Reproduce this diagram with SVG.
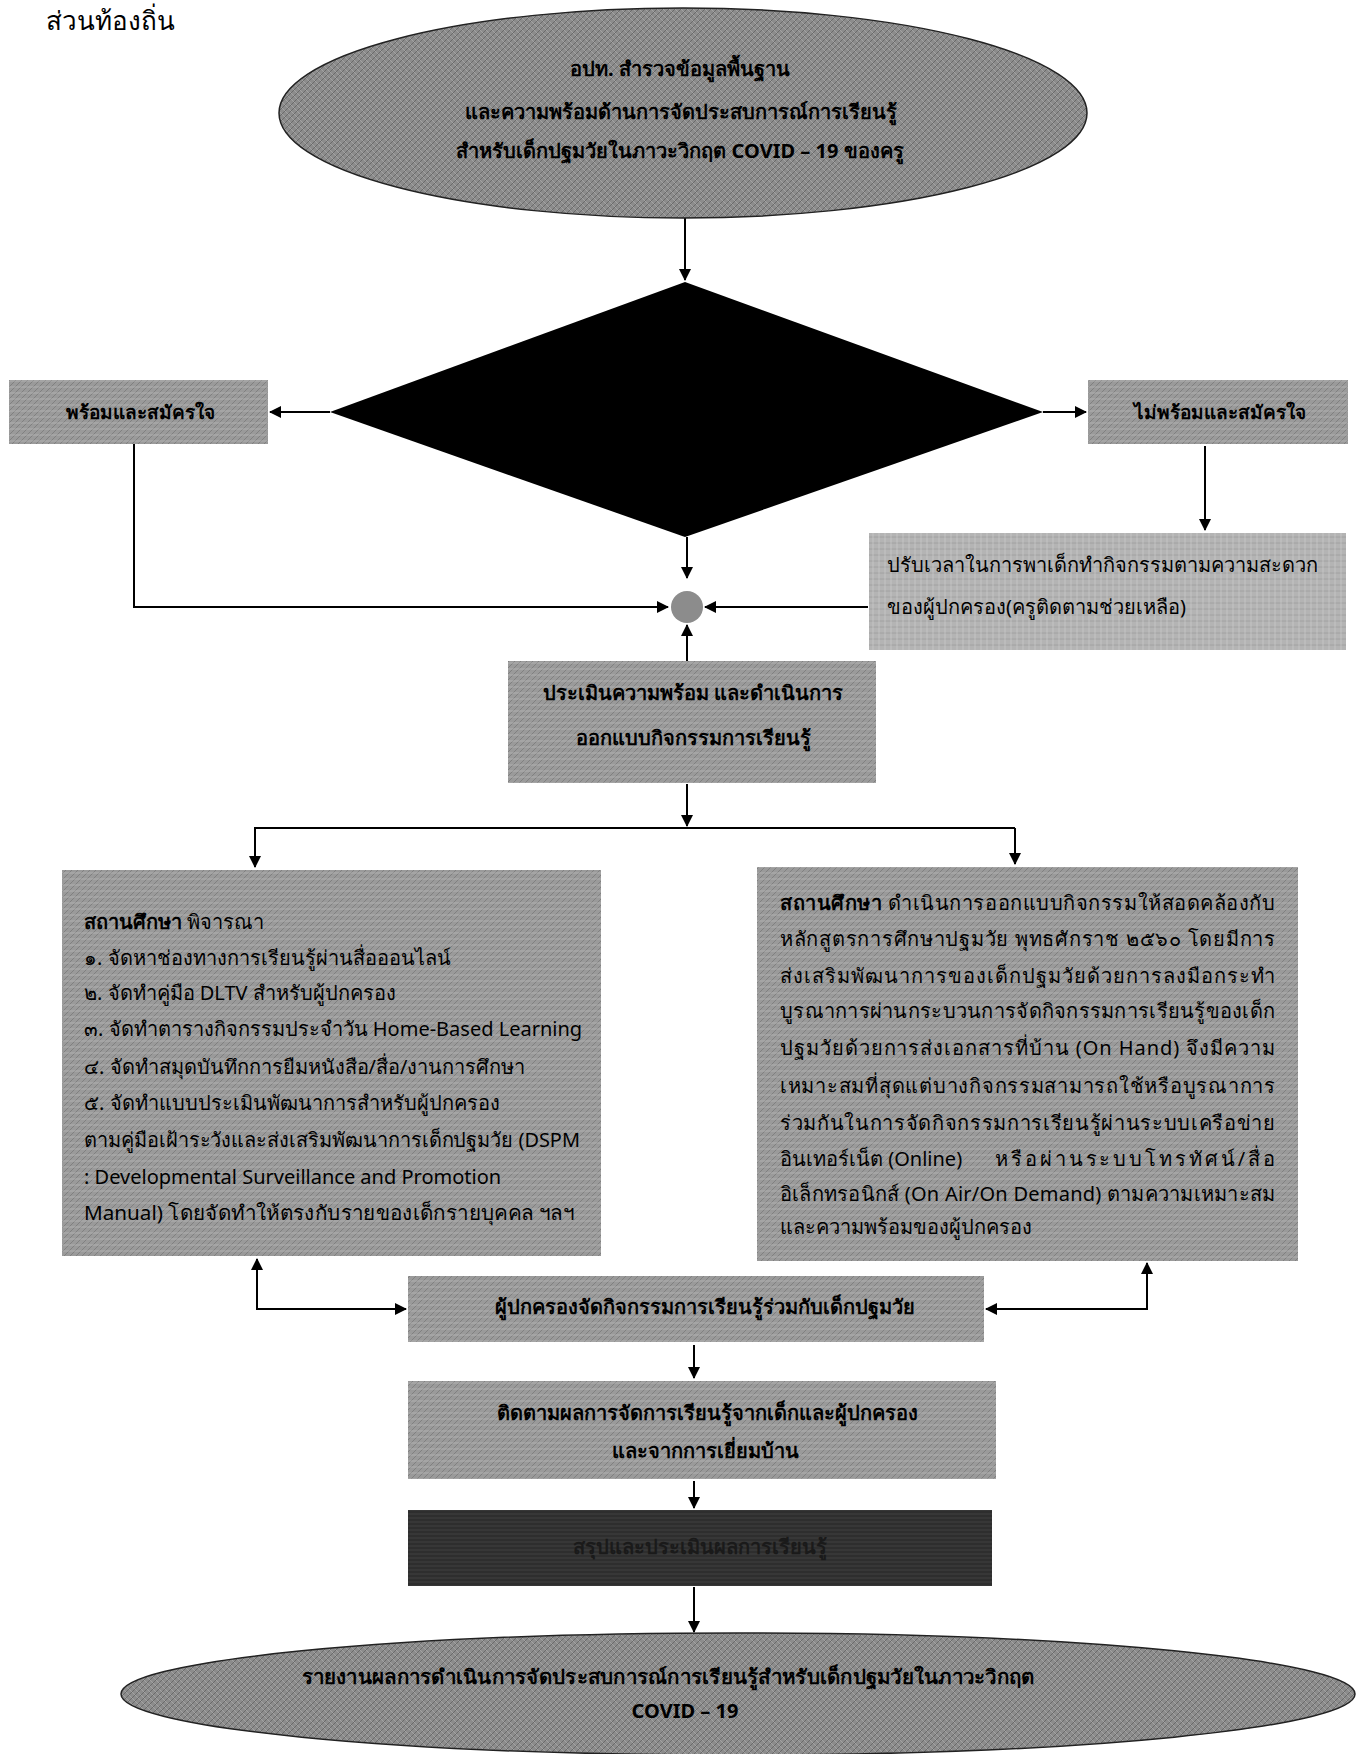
<svg xmlns="http://www.w3.org/2000/svg" width="1358" height="1754" viewBox="0 0 1358 1754">
<style>
text{font-family:"Noto Sans","DejaVu Sans",sans-serif;fill:#000}
.h{font-size:26px}
.b{font-weight:bold;font-size:20px}
.s{font-weight:bold;font-size:19px}
.t{font-size:20px}
.c{text-anchor:middle}
.ln{stroke:#000;stroke-width:2;fill:none}
.edge{stroke:#222;stroke-width:1.5}
</style>
<defs>
<marker id="ah" viewBox="0 0 12 12" refX="11" refY="6" markerWidth="12" markerHeight="12" markerUnits="userSpaceOnUse" orient="auto-start-reverse"><path d="M0,0 L12,6 L0,12 Z" fill="#000"/></marker>
<pattern id="g1" width="6" height="6" patternUnits="userSpaceOnUse"><rect width="6" height="6" fill="#8c8c8c"/><path d="M0,6 L6,0" stroke="#6a6a6a" stroke-width="1"/><path d="M0,0 L6,6" stroke="#b2b2b2" stroke-width="0.6"/></pattern>
<pattern id="g2" width="6" height="6" patternUnits="userSpaceOnUse"><rect width="6" height="6" fill="#9a9a9a"/><path d="M0,6 L6,0" stroke="#7a7a7a" stroke-width="0.8"/><path d="M0,3 L6,3" stroke="#bdbdbd" stroke-width="0.6"/></pattern>
<pattern id="g3" width="6" height="6" patternUnits="userSpaceOnUse"><rect width="6" height="6" fill="#b4b4b4"/><path d="M0,3 L6,3" stroke="#9a9a9a" stroke-width="0.8"/><path d="M3,0 L3,6" stroke="#cfcfcf" stroke-width="0.6"/></pattern>
<pattern id="g4" width="4" height="4" patternUnits="userSpaceOnUse"><rect width="4" height="4" fill="#2e2e2e"/><path d="M0,2 L4,2" stroke="#444" stroke-width="0.8"/></pattern>
</defs>

<text class="h" x="46" y="30">ส่วนท้องถิ่น</text>

<g id="connectors">
<line class="ln" x1="685" y1="218" x2="685" y2="280" marker-end="url(#ah)"/>
<line class="ln" x1="330" y1="412" x2="270" y2="412" marker-end="url(#ah)"/>
<line class="ln" x1="1043" y1="412" x2="1086" y2="412" marker-end="url(#ah)"/>
<line class="ln" x1="1205" y1="446" x2="1205" y2="530" marker-end="url(#ah)"/>
<line class="ln" x1="687" y1="537" x2="687" y2="578" marker-end="url(#ah)"/>
<polyline class="ln" points="134,444 134,607 668,607" marker-end="url(#ah)"/>
<line class="ln" x1="868" y1="607" x2="705" y2="607" marker-end="url(#ah)"/>
<line class="ln" x1="687" y1="662" x2="687" y2="625" marker-end="url(#ah)"/>
<line class="ln" x1="687" y1="784" x2="687" y2="826" marker-end="url(#ah)"/>
<line class="ln" x1="254" y1="828" x2="1015" y2="828"/>
<line class="ln" x1="255" y1="828" x2="255" y2="867" marker-end="url(#ah)"/>
<line class="ln" x1="1015" y1="828" x2="1015" y2="864" marker-end="url(#ah)"/>
<polyline class="ln" points="257,1259 257,1309 406,1309" marker-start="url(#ah)" marker-end="url(#ah)"/>
<polyline class="ln" points="1147,1263 1147,1309 986,1309" marker-start="url(#ah)" marker-end="url(#ah)"/>
<line class="ln" x1="694" y1="1345" x2="694" y2="1378" marker-end="url(#ah)"/>
<line class="ln" x1="694" y1="1481" x2="694" y2="1508" marker-end="url(#ah)"/>
<line class="ln" x1="694" y1="1587" x2="694" y2="1632" marker-end="url(#ah)"/>
</g>

<g id="n-start">
<ellipse cx="683" cy="113" rx="404" ry="105" fill="url(#g1)" class="edge"/>
<text class="b c" x="680" y="76">อปท. สำรวจข้อมูลพื้นฐาน</text>
<text class="b c" x="681" y="119">และความพร้อมด้านการจัดประสบการณ์การเรียนรู้</text>
<text class="b c" x="680" y="158">สำหรับเด็กปฐมวัยในภาวะวิกฤต COVID – 19 ของครู</text>
</g>

<g id="n-decision">
<polygon points="685,282 1043,412 685,537 330,412" fill="#000"/>
</g>

<g id="n-ready">
<rect x="9" y="380" width="259" height="64" fill="url(#g2)"/>
<text class="s c" x="140" y="419">พร้อมและสมัครใจ</text>
</g>

<g id="n-notready">
<rect x="1088" y="380" width="260" height="64" fill="url(#g2)"/>
<text class="s c" x="1220" y="419">ไม่พร้อมและสมัครใจ</text>
</g>

<g id="n-adjust">
<rect x="869" y="533" width="477" height="117" fill="url(#g3)"/>
<text class="t" x="887" y="572">ปรับเวลาในการพาเด็กทำกิจกรรมตามความสะดวก</text>
<text class="t" x="887" y="614">ของผู้ปกครอง(ครูติดตามช่วยเหลือ)</text>
</g>

<g id="n-join">
<circle cx="687" cy="607" r="16" fill="#8c8c8c"/>
</g>

<g id="n-assess">
<rect x="508" y="661" width="368" height="122" fill="url(#g2)"/>
<text class="b c" x="693" y="700">ประเมินความพร้อม และดำเนินการ</text>
<text class="b c" x="693" y="745">ออกแบบกิจกรรมการเรียนรู้</text>
</g>

<g id="n-left">
<rect x="62" y="870" width="539" height="386" fill="url(#g2)"/>
<text class="t" x="84" y="929"><tspan font-weight="bold">สถานศึกษา</tspan> พิจารณา</text>
<text class="t" x="84" y="965">๑. จัดหาช่องทางการเรียนรู้ผ่านสื่อออนไลน์</text>
<text class="t" x="84" y="1000">๒. จัดทำคู่มือ DLTV สำหรับผู้ปกครอง</text>
<text class="t" x="84" y="1036">๓. จัดทำตารางกิจกรรมประจำวัน Home-Based Learning</text>
<text class="t" x="84" y="1074">๔. จัดทำสมุดบันทึกการยืมหนังสือ/สื่อ/งานการศึกษา</text>
<text class="t" x="84" y="1110">๕. จัดทำแบบประเมินพัฒนาการสำหรับผู้ปกครอง</text>
<text class="t" x="84" y="1147" textLength="496" lengthAdjust="spacingAndGlyphs">ตามคู่มือเฝ้าระวังและส่งเสริมพัฒนาการเด็กปฐมวัย (DSPM</text>
<text class="t" x="84" y="1184">: Developmental Surveillance and Promotion</text>
<text class="t" x="84" y="1220" textLength="490" lengthAdjust="spacingAndGlyphs">Manual) โดยจัดทำให้ตรงกับรายของเด็กรายบุคคล ฯลฯ</text>
</g>

<g id="n-right">
<rect x="757" y="867" width="541" height="394" fill="url(#g2)"/>
<text class="t" x="780" y="910" textLength="495" lengthAdjust="spacing"><tspan font-weight="bold">สถานศึกษา</tspan> ดำเนินการออกแบบกิจกรรมให้สอดคล้องกับ</text>
<text class="t" x="780" y="946" textLength="495" lengthAdjust="spacing">หลักสูตรการศึกษาปฐมวัย พุทธศักราช ๒๕๖๐ โดยมีการ</text>
<text class="t" x="780" y="983" textLength="495" lengthAdjust="spacing">ส่งเสริมพัฒนาการของเด็กปฐมวัยด้วยการลงมือกระทำ</text>
<text class="t" x="780" y="1018" textLength="495" lengthAdjust="spacing">บูรณาการผ่านกระบวนการจัดกิจกรรมการเรียนรู้ของเด็ก</text>
<text class="t" x="780" y="1055" textLength="495" lengthAdjust="spacing">ปฐมวัยด้วยการส่งเอกสารที่บ้าน (On Hand) จึงมีความ</text>
<text class="t" x="780" y="1093" textLength="495" lengthAdjust="spacing">เหมาะสมที่สุดแต่บางกิจกรรมสามารถใช้หรือบูรณาการ</text>
<text class="t" x="780" y="1130" textLength="495" lengthAdjust="spacing">ร่วมกันในการจัดกิจกรรมการเรียนรู้ผ่านระบบเครือข่าย</text>
<text class="t" x="780" y="1166">อินเทอร์เน็ต (Online)</text>
<text class="t" x="995" y="1166" textLength="280" lengthAdjust="spacing">หรือผ่านระบบโทรทัศน์/สื่อ</text>
<text class="t" x="780" y="1201" textLength="495" lengthAdjust="spacing">อิเล็กทรอนิกส์ (On Air/On Demand) ตามความเหมาะสม</text>
<text class="t" x="780" y="1234">และความพร้อมของผู้ปกครอง</text>
</g>

<g id="n-parent">
<rect x="408" y="1276" width="576" height="66" fill="url(#g2)"/>
<text class="b c" x="705" y="1314">ผู้ปกครองจัดกิจกรรมการเรียนรู้ร่วมกับเด็กปฐมวัย</text>
</g>

<g id="n-follow">
<rect x="408" y="1381" width="588" height="98" fill="url(#g2)"/>
<text class="b c" x="707" y="1420">ติดตามผลการจัดการเรียนรู้จากเด็กและผู้ปกครอง</text>
<text class="b c" x="705" y="1458">และจากการเยี่ยมบ้าน</text>
</g>

<g id="n-summary">
<rect x="408" y="1510" width="584" height="76" fill="url(#g4)"/>
<text class="b c" x="700" y="1554" style="fill:#1a1a1a">สรุปและประเมินผลการเรียนรู้</text>
</g>

<g id="n-end">
<ellipse cx="738" cy="1694" rx="617" ry="61" fill="url(#g1)" class="edge"/>
<text class="b c" x="668" y="1684" textLength="733" lengthAdjust="spacingAndGlyphs">รายงานผลการดำเนินการจัดประสบการณ์การเรียนรู้สำหรับเด็กปฐมวัยในภาวะวิกฤต</text>
<text class="b c" x="685" y="1718">COVID – 19</text>
</g>
</svg>
